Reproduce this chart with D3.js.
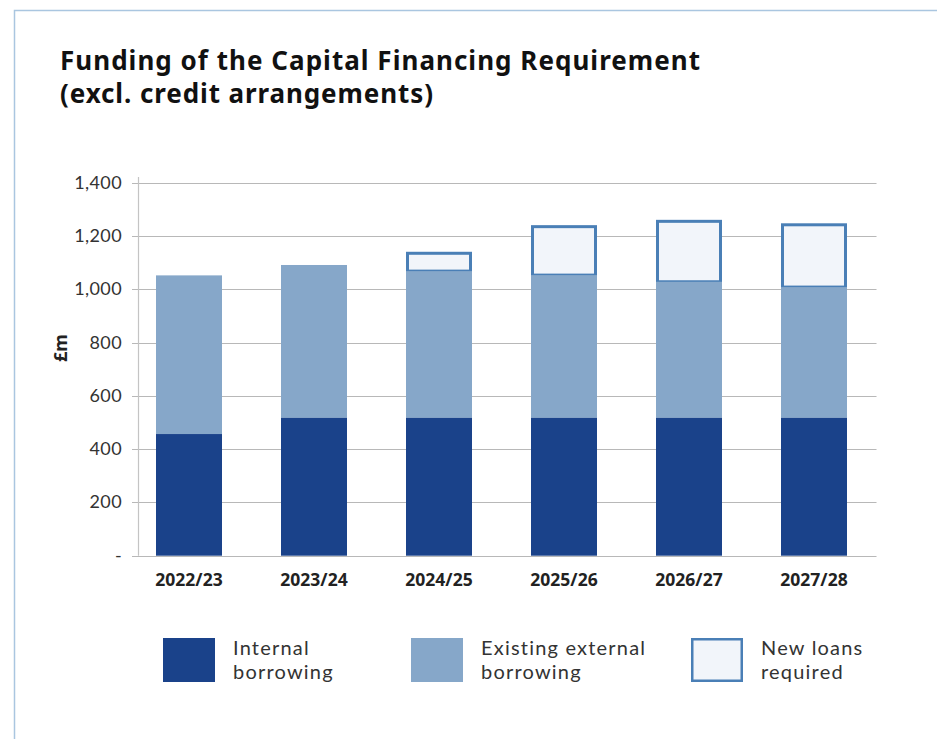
<!DOCTYPE html>
<html>
<head>
<meta charset="utf-8">
<script src="https://cdn.jsdelivr.net/npm/d3@7"></script>
<style>
  body { margin: 0; background: #fff; }
  svg { display: block; }
  .title { font-family: "Noto Sans", sans-serif; font-weight: 700; font-size: 26px; fill: #111; }
  .tick-y { font-family: Lato, sans-serif; font-size: 18px; letter-spacing: 0.4px; fill: #333; }
  .tick-x { font-family: "Noto Sans", sans-serif; font-weight: 700; font-size: 17.5px; fill: #222; }
  .ylabel { font-family: "Noto Sans", sans-serif; font-weight: 700; font-size: 18px; fill: #222; }
  .legend-text { font-family: Lato, sans-serif; font-size: 20px; letter-spacing: 1.2px; fill: #333; }
</style>
</head>
<body>
<svg id="chart"></svg>
<script>
const years = ['2022/23', '2023/24', '2024/25', '2025/26', '2026/27', '2027/28'];
const internalBorrowing = [457, 518, 518, 518, 518, 518];
const existingExternal  = [596, 574, 551, 536, 511, 491];
const newLoans          = [0, 0, 67, 182, 227, 234];
const yTicks = [0, 200, 400, 600, 800, 1000, 1200, 1400];
const titleLines = ['Funding of the Capital Financing Requirement', '(excl. credit arrangements)'];
const legendItems = [
  { key: 'internal', lines: ['Internal', 'borrowing'] },
  { key: 'existing', lines: ['Existing external', 'borrowing'] },
  { key: 'newloans', lines: ['New loans', 'required'] }
];

const W = 937, H = 739;
const cInternal = '#1a428a';
const cExisting = '#86a7c9';
const cNewFill  = '#f2f5fa';
const cNewLine  = '#4a7fb6';

const svg = d3.select('#chart').attr('width', W).attr('height', H);

// Frame (top + left light blue border)
svg.append('path')
  .attr('d', `M14.5,${H} L14.5,10.5 L${W},10.5`)
  .attr('fill', 'none').attr('stroke', '#aac6e0').attr('stroke-width', 1.5);

// Title
const titleW = [640, 373];
titleLines.forEach((ln, i) => {
  svg.append('text').attr('class', 'title')
    .attr('x', 60).attr('y', 70 + i * 33)
    .attr('textLength', titleW[i]).attr('lengthAdjust', 'spacing')
    .text(ln);
});

// Scales
const x = d3.scaleBand().domain(years).range([126.5, 876.5])
  .paddingInner(0.472).paddingOuter(0.236);
const y = d3.scaleLinear().domain([0, 1400]).range([555.7, 183]);

// Gridlines
svg.append('g').selectAll('line').data(yTicks).join('line')
  .attr('x1', 132).attr('x2', 876.5)
  .attr('y1', d => Math.round(y(d)) + 0.5).attr('y2', d => Math.round(y(d)) + 0.5)
  .attr('stroke', '#b8b8b8').attr('stroke-width', 1.2);

// Y axis line
svg.append('line')
  .attr('x1', 138.5).attr('x2', 138.5)
  .attr('y1', y(1400) - 6).attr('y2', y(0))
  .attr('stroke', '#c4c4c4').attr('stroke-width', 1.2);

// Y tick labels
svg.append('g').selectAll('text').data(yTicks).join('text')
  .attr('class', 'tick-y')
  .attr('x', 122).attr('y', d => y(d) + 6)
  .attr('text-anchor', 'end')
  .text(d => d === 0 ? '-' : d3.format(',')(d));

// Y label
svg.append('text').attr('class', 'ylabel')
  .attr('transform', `translate(67,${y(780)}) rotate(-90)`)
  .attr('text-anchor', 'middle').text('£m');

// Bars
const bars = svg.append('g');
const sw = 3;
years.forEach((yr, i) => {
  const bx = x(yr), bw = x.bandwidth();
  const base = internalBorrowing[i] + existingExternal[i];
  if (newLoans[i] > 0) {
    bars.append('rect')
      .attr('x', bx + sw / 2).attr('y', y(base + newLoans[i]))
      .attr('width', bw - sw).attr('height', y(base) - y(base + newLoans[i]))
      .attr('fill', cNewFill).attr('stroke', cNewLine).attr('stroke-width', sw);
  }
  bars.append('rect')
    .attr('x', bx).attr('y', y(base))
    .attr('width', bw).attr('height', y(internalBorrowing[i]) - y(base))
    .attr('fill', cExisting);
  bars.append('rect')
    .attr('x', bx).attr('y', y(internalBorrowing[i]))
    .attr('width', bw).attr('height', y(0) - y(internalBorrowing[i]))
    .attr('fill', cInternal);
});

// X labels
svg.append('g').selectAll('text').data(years).join('text')
  .attr('class', 'tick-x')
  .attr('x', d => x(d) + x.bandwidth() / 2).attr('y', 586)
  .attr('text-anchor', 'middle').text(d => d);

// Legend
const legX = [163, 411, 691];
const leg = svg.append('g');
legendItems.forEach((it, i) => {
  const g = leg.append('g').attr('transform', `translate(${legX[i]},638)`);
  if (it.key === 'newloans') {
    g.append('rect').attr('x', 1.25).attr('y', 1.25).attr('width', 49.5).attr('height', 41.5)
      .attr('fill', cNewFill).attr('stroke', cNewLine).attr('stroke-width', 2.5);
  } else {
    g.append('rect').attr('width', 52).attr('height', 44)
      .attr('fill', it.key === 'internal' ? cInternal : cExisting);
  }
  const t = g.append('text').attr('class', 'legend-text');
  it.lines.forEach((ln, j) => {
    t.append('tspan').attr('x', 70).attr('y', 17 + j * 24).text(ln);
  });
});
</script>
</body>
</html>
